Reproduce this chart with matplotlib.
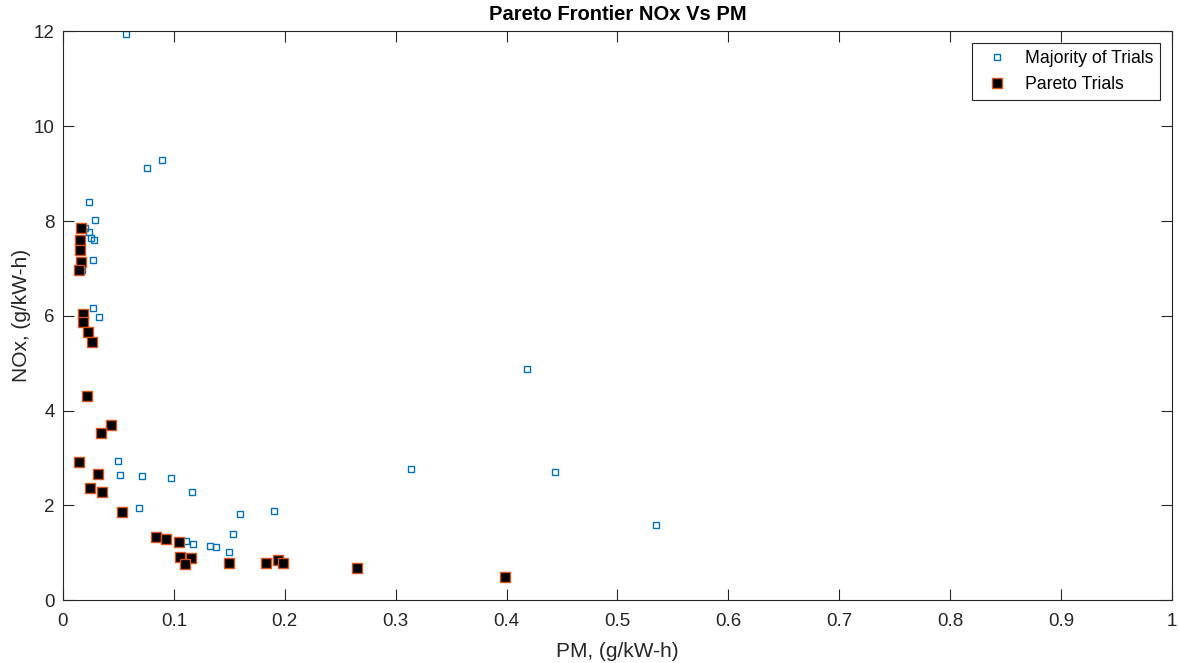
import matplotlib.pyplot as plt

plt.rcParams['font.family'] = ['Liberation Sans', 'DejaVu Sans']

## majority of trials (PM, NOx)
pm_all = [0.0568, 0.089, 0.0757, 0.0234, 0.0288, 0.0198, 0.0234, 0.025, 0.0282,
          0.0273, 0.0174, 0.0273, 0.0327, 0.0493, 0.051, 0.0712, 0.0973, 0.1165,
          0.0688, 0.160, 0.1904, 0.1535, 0.1108, 0.1174, 0.1324, 0.1381, 0.1493,
          0.418, 0.3135, 0.444, 0.535]
nox_all = [11.95, 9.29, 9.12, 8.40, 8.02, 7.86, 7.77, 7.65, 7.60,
           7.17, 6.97, 6.17, 5.97, 2.93, 2.63, 2.61, 2.57, 2.29,
           1.94, 1.82, 1.88, 1.39, 1.25, 1.18, 1.13, 1.11, 1.01,
           4.88, 2.76, 2.70, 1.58]

## pareto trials
pm_par = [0.016, 0.0156, 0.015, 0.0165, 0.0141, 0.0183, 0.0183, 0.0225, 0.0258,
          0.0219, 0.0435, 0.0342, 0.0141, 0.0318, 0.0243, 0.0351, 0.0529,
          0.0838, 0.0931, 0.1042, 0.1057, 0.1159, 0.1099, 0.1493, 0.1835,
          0.1937, 0.1988, 0.2649, 0.399]
nox_par = [7.86, 7.60, 7.38, 7.13, 6.97, 6.03, 5.87, 5.65, 5.44,
           4.30, 3.69, 3.53, 2.91, 2.65, 2.36, 2.29, 1.86,
           1.33, 1.29, 1.22, 0.90, 0.89, 0.77, 0.78, 0.78,
           0.84, 0.78, 0.675, 0.485]

fig = plt.figure(figsize=(11.79, 6.63), dpi=100)
ax = fig.add_axes([0.0534, 0.095, 0.9406, 0.8575])

ax.plot(pm_all, nox_all, 's', markersize=5, markerfacecolor='none',
        markeredgecolor='#0072BD', markeredgewidth=1.0, label='Majority of Trials')
ax.plot(pm_par, nox_par, 's', markersize=6.5, markerfacecolor='black',
        markeredgecolor='#D95319', markeredgewidth=1.0, label='Pareto Trials')

ax.set_xlim(0, 1)
ax.set_ylim(0, 12)
ax.set_xticks([i / 10 for i in range(11)])
ax.set_xticklabels(['0', '0.1', '0.2', '0.3', '0.4', '0.5', '0.6', '0.7', '0.8', '0.9', '1'])
ax.set_yticks(range(0, 13, 2))
ax.tick_params(direction='in', top=True, right=True, length=8, labelsize=13.5,
               colors='#262626')
ax.tick_params(axis='x', pad=9)
ax.tick_params(axis='y', pad=6)
for s in ax.spines.values():
    s.set_color('#262626')

ax.set_xlabel('PM, (g/kW-h)', fontsize=15, color='#262626', labelpad=9)
ax.set_ylabel('NOx, (g/kW-h)', fontsize=15, color='#262626', labelpad=2)
ax.set_title('Pareto Frontier NOx Vs PM', fontsize=14.5, fontweight='bold', pad=8)

leg = ax.legend(loc='upper right', fontsize=12.7, fancybox=False, framealpha=1,
                edgecolor='#262626', borderaxespad=0.65, handletextpad=0.6)
leg.get_frame().set_linewidth(0.8)

plt.savefig('out.png')
